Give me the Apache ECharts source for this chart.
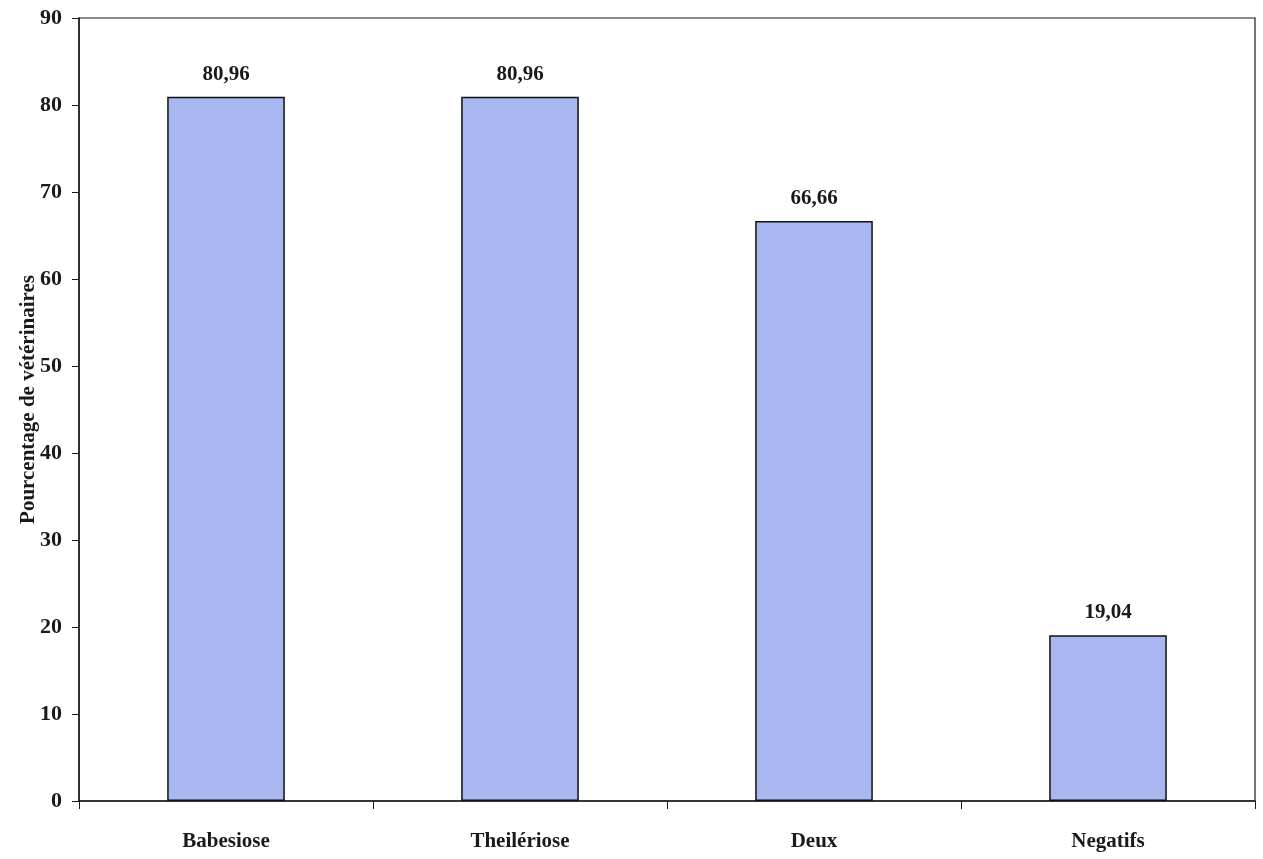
<!DOCTYPE html>
<html>
<head>
<meta charset="utf-8">
<script src="https://cdn.jsdelivr.net/npm/echarts@6/dist/echarts.min.js"></script>
<style>
  html, body { margin: 0; padding: 0; background: #ffffff; }
  #chart { width: 1263px; height: 859px; }
</style>
</head>
<body>
<div id="chart"></div>
<script>
// Categories and percentages of veterinarians
const categories = ['Babesiose', 'Theilériose', 'Deux', 'Negatifs'];
const percentages = [80.96, 80.96, 66.66, 19.04];
const yTicks = [0, 10, 20, 30, 40, 50, 60, 70, 80, 90];

const serif = '"Liberation Serif", "Times New Roman", serif';
const ink = '#1a1a1a';

const chart = echarts.init(document.getElementById('chart'));
chart.setOption({
  backgroundColor: '#ffffff',
  animation: false,
  grid: {
    left: 79, right: 8, top: 18, bottom: 58,
    show: true, borderColor: ink, borderWidth: 1.2, backgroundColor: 'transparent'
  },
  xAxis: {
    type: 'category',
    data: categories,
    boundaryGap: true,
    axisLine: { show: true, lineStyle: { color: ink, width: 1.5 } },
    axisTick: { show: true, alignWithLabel: false, length: 8, lineStyle: { color: ink } },
    axisLabel: {
      color: ink, fontFamily: serif, fontWeight: 'bold', fontSize: 21, margin: 30
    },
    splitLine: { show: false }
  },
  yAxis: {
    type: 'value',
    min: yTicks[0],
    max: yTicks[yTicks.length - 1],
    interval: 10,
    name: 'Pourcentage de vétérinaires',
    nameLocation: 'middle',
    nameGap: 40,
    nameMoveOverlap: false,
    nameTextStyle: {
      color: ink, fontFamily: serif, fontWeight: 'bold', fontSize: 21,
      padding: [0, 0, 0, 20]
    },
    axisLine: { show: true, lineStyle: { color: ink, width: 1.5 } },
    axisTick: { show: true, length: 7, lineStyle: { color: ink } },
    axisLabel: {
      color: ink, fontFamily: serif, fontWeight: 'bold', fontSize: 22, margin: 17,
      formatter: v => (yTicks.includes(v) ? String(v) : '')
    },
    splitLine: { show: false }
  },
  series: [{
    type: 'bar',
    data: percentages,
    barWidth: '40%',
    itemStyle: { color: '#a8b7ef', borderColor: '#111', borderWidth: 1.5 },
    label: {
      show: true,
      position: 'top',
      distance: 12,
      color: ink,
      fontFamily: serif,
      fontWeight: 'bold',
      fontSize: 21,
      formatter: p => p.value.toFixed(2).replace('.', ',')
    }
  }]
});
</script>
</body>
</html>
